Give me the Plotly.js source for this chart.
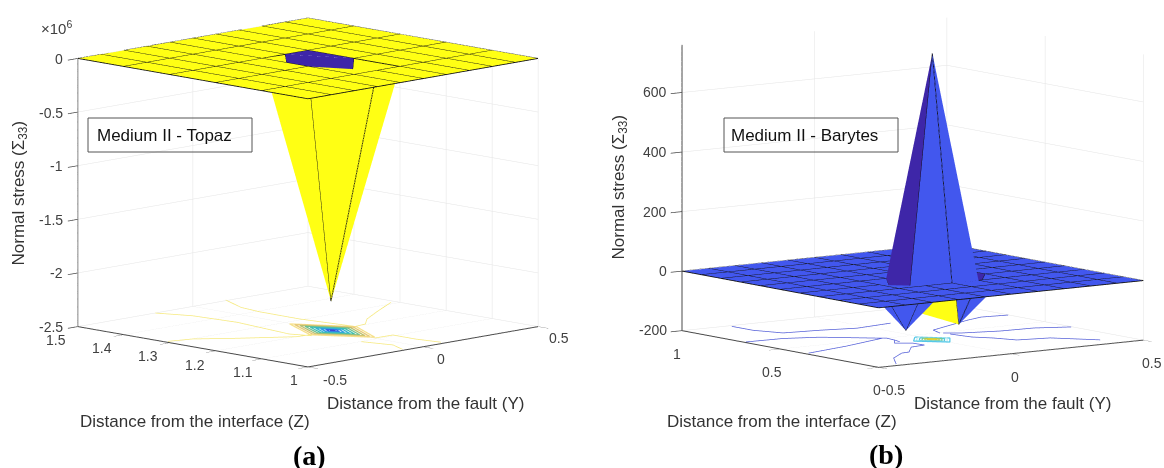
<!DOCTYPE html>
<html><head><meta charset="utf-8">
<script src="https://cdn.plot.ly/plotly-3.0.1.min.js"></script>
<style>html,body{margin:0;padding:0;background:#fff}#g{width:1164px;height:468px}</style>
</head><body><div id="g"></div>
<script>
// ---------- Panel (a): Medium II - Topaz ----------
const topazY = [-0.5,-0.4,-0.3,-0.2,-0.1,0,0.1,0.2,0.3,0.4,0.5];
const topazZ = [1,1.1,1.2,1.3,1.4,1.5];
const topazStress = [
 [0,0,0,0,0,0,0,0,0,0,0],
 [0,0,0,0,0,0,0,0,0,0,0],
 [0,0,0,0,0,-2225000,0,0,0,0,0],
 [0,0,0,0,0,0,0,0,0,0,0],
 [0,0,0,0,0,0,0,0,0,0,0],
 [0,0,0,0,0,0,0,0,0,0,0]];
const topazContours = [
 [[0.137,1.497],[0.079,1.435],[0.065,1.388],[0.063,1.299],[0.09,1.195]],
 [[-0.177,1.493],[-0.13,1.436],[-0.114,1.347],[-0.146,1.218],[-0.119,1.183]],
 [[-0.5,1.304],[-0.417,1.292],[-0.312,1.248],[-0.163,1.193],[-0.09,1.19]],
 [[0.467,1.303],[0.335,1.265],[0.208,1.226],[0.143,1.197],[0.094,1.193]],
 [[0.082,1.002],[0.066,1.05],[0.067,1.099],[-0.01,1.1]],
 [[-0.09,1.0],[-0.056,1.037],[-0.084,1.092]]];
const topazRingCorners = [[-0.02,1.28],[0.09,1.19],[0,1.105],[-0.11,1.19]];
const topazRingScale = [1,0.88,0.76,0.64,0.52,0.4,0.28,0.16,0.06];
const topazRingColors = ['#F6E08A','#E6C878','#B8C070','#6FC08F','#40BFB0','#33B4D0','#2F9BE0','#3565E8','#3F3FD0'];

// ---------- Panel (b): Medium II - Barytes ----------
const barytesY = [-0.5,-0.4,-0.3,-0.2,-0.1,0,0.1,0.2,0.3,0.4,0.5];
const barytesZ = [0,0.1,0.2,0.3,0.4,0.5,0.6,0.7,0.8,0.9,1];
const barytesStress = [
 [0,0,0,0,0,0,0,0,0,0,0],
 [0,0,0,0,0,0,0,0,0,0,0],
 [0,0,0,0,0,0,0,0,0,0,0],
 [0,0,0,0,0,0,0,0,0,0,0],
 [0,0,0,0,-162,760,-160,0,0,0,0],
 [0,0,0,0,0,-118,0,0,0,0,0],
 [0,0,0,0,0,0,0,0,0,0,0],
 [0,0,0,0,0,0,0,0,0,0,0],
 [0,0,0,0,0,0,0,0,0,0,0],
 [0,0,0,0,0,0,0,0,0,0,0],
 [0,0,0,0,0,0,0,0,0,0,0]];
const barytesContours = [
 [[-0.327,0.98],[-0.326,0.873],[-0.288,0.772],[-0.162,0.753],[-0.045,0.722],[0.102,0.75]],
 [[-0.496,0.681],[-0.361,0.675],[-0.254,0.631],[-0.127,0.512],[-0.103,0.494],[-0.109,0.445],[-0.119,0.406]],
 [[-0.489,0.371],[-0.306,0.426],[-0.113,0.501]],
 [[-0.418,0.021],[-0.346,0.131],[-0.261,0.204],[-0.23,0.209],[-0.16,0.292],[-0.101,0.304],[-0.105,0.36],[-0.149,0.392],[-0.109,0.445]],
 [[0.494,0.68],[0.402,0.693],[0.33,0.664],[0.223,0.608],[0.115,0.551],[0.093,0.486]],
 [[0.492,0.357],[0.388,0.406],[0.267,0.413],[0.142,0.45],[0.101,0.481]],
 [[0.394,0.077],[0.298,0.202],[0.19,0.226],[0.158,0.304],[0.119,0.359],[0.105,0.451]]];
const barytesRingCorners = [[-0.021,0.461],[0.052,0.381],[0,0.311],[-0.076,0.393]];
const barytesRingScale = [1,0.85,0.7,0.55,0.4,0.25,0.1];
const barytesRingColors = ['#55C8E8','#BDEBF0','#55C8D8','#7CCB8C','#B9CC4A','#E8CF30','#F5D820'];

// ---------- Tick values and labels ----------
const faultTicks = [-0.5,0,0.5];
const faultLabels = ['-0.5','0','0.5'];
const topazDepthTicks = [1,1.1,1.2,1.3,1.4,1.5];
const topazDepthLabels = ['1','1.1','1.2','1.3','1.4','1.5'];
const topazStressTicks = [-2500000,-2000000,-1500000,-1000000,-500000,0];
const topazStressLabels = ['-2.5','-2','-1.5','-1','-0.5','0'];
const barytesDepthTicks = [0,0.5,1];
const barytesDepthLabels = ['0','0.5','1'];
const barytesStressTicks = [-200,0,200,400,600];
const barytesStressLabels = ['-200','0','200','400','600'];

// ---------- Shared text and colours ----------
const parulaStops = [[0,[62,38,168]],[0.18,[66,88,240]],[0.3,[46,135,240]],[0.45,[16,181,216]],[0.6,[60,194,143]],[0.75,[196,187,60]],[0.9,[251,195,44]],[1,[255,255,20]]];
function parula(t){
  for(let i=1;i<parulaStops.length;i++){
    if(t<=parulaStops[i][0]){
      const a=parulaStops[i-1],b=parulaStops[i],f=(t-a[0])/(b[0]-a[0]);
      return 'rgb('+a[1].map((v,n)=>Math.round(v+(b[1][n]-v)*f)).join(',')+')';
    }
  }
  return 'rgb(255,255,20)';
}

function surfaceTraces(Y,Z,S,scene){
  const x=[],y=[],z=[],I=[],J=[],K=[],fc=[];
  const flat=S.flat(), lo=Math.min(...flat), hi=Math.max(...flat);
  const nY=Y.length,nZ=Z.length,id=(r,c)=>r*nY+c;
  for(let r=0;r<nZ;r++)for(let c=0;c<nY;c++){x.push(Y[c]);y.push(Z[r]);z.push(S[r][c]);}
  for(let r=0;r<nZ-1;r++)for(let c=0;c<nY-1;c++){
    const q=[id(r,c),id(r,c+1),id(r+1,c+1),id(r+1,c)];
    const col=parula((S[r][c]-lo)/(hi-lo));
    // every cell is split along the same diagonal, second corner to fourth
    I.push(q[0],q[1]);J.push(q[1],q[2]);K.push(q[3],q[3]);fc.push(col,col);
  }
  const lx=[],ly=[],lz=[];
  for(let r=0;r<nZ;r++){for(let c=0;c<nY;c++){lx.push(Y[c]);ly.push(Z[r]);lz.push(S[r][c]);}lx.push(null);ly.push(null);lz.push(null);}
  for(let c=0;c<nY;c++){for(let r=0;r<nZ;r++){lx.push(Y[c]);ly.push(Z[r]);lz.push(S[r][c]);}lx.push(null);ly.push(null);lz.push(null);}
  return [
   {type:'mesh3d',scene,x,y,z,i:I,j:J,k:K,facecolor:fc,flatshading:true,hoverinfo:'skip',showscale:false,
    lighting:{ambient:1,diffuse:0,specular:0,roughness:1,fresnel:0}},
   {type:'scatter3d',scene,mode:'lines',x:lx,y:ly,z:lz,line:{color:'#111',width:1.7},hoverinfo:'skip',showlegend:false}
  ];
}
function contourTraces(lines,floor,color,scene){
  const x=[],y=[],z=[];
  lines.forEach(l=>{l.forEach(p=>{x.push(p[0]);y.push(p[1]);z.push(floor);});x.push(null);y.push(null);z.push(null);});
  return {type:'scatter3d',scene,mode:'lines',x,y,z,line:{color,width:1.5},hoverinfo:'skip',showlegend:false};
}
function ringTraces(corners,scales,colors,floor,scene){
  const cy=corners.reduce((s,p)=>s+p[0],0)/corners.length, cz=corners.reduce((s,p)=>s+p[1],0)/corners.length;
  return scales.map((s,n)=>{
    const loop=corners.concat([corners[0]]);
    return {type:'scatter3d',scene,mode:'lines',
      x:loop.map(p=>cy+(p[0]-cy)*s),y:loop.map(p=>cz+(p[1]-cz)*s),z:loop.map(()=>floor),
      line:{color:colors[n],width:2.5},hoverinfo:'skip',showlegend:false};
  });
}
function ax(range,tickvals,ticktext){
  return {range,autorange:false,tickmode:'array',tickvals,ticktext,showticklabels:false,title:{text:''},showgrid:true,gridcolor:'#e4e4e4',gridwidth:1,
    zeroline:false,showbackground:false,showline:true,linecolor:'#484848',linewidth:2,ticks:'outside',ticklen:14,tickcolor:'#484848',tickwidth:1.5,showspikes:false};
}
const Ka=4, Kb=4, shiftB=0.1154;
const elA=Math.tan(10.1*Math.PI/180), elB=Math.tan(7.97*Math.PI/180);
const rightB=[0.803,-0.596];
const centerB={x:-shiftB*rightB[0],y:-shiftB*rightB[1],z:0};
const tickSpots=(labels,spots,anchor)=>labels.map((t,n)=>({text:t,x:spots[n][0],y:spots[n][1],anchor}));
const layout={
 width:1164,height:468,margin:{l:0,r:0,t:0,b:0},paper_bgcolor:'#fff',showlegend:false,
 scene:{domain:{x:[0,0.5289],y:[0.1774,1]},aspectmode:'manual',aspectratio:{x:1.691,y:1.691,z:1.415},
   camera:{projection:{type:'orthographic'},up:{x:0,y:0,z:1},center:{x:0,y:0,z:0},eye:{x:-0.7071*Ka,y:-0.7071*Ka,z:elA*Ka}},
   xaxis:ax([-0.5,0.5],faultTicks,faultLabels),
   yaxis:ax([1,1.5],topazDepthTicks,topazDepthLabels),
   zaxis:ax([-2500000,0],topazStressTicks,topazStressLabels)},
 scene2:{domain:{x:[0.53,1],y:[0.1774,1]},aspectmode:'manual',aspectratio:{x:1.713,y:1.713,z:1.499},
   camera:{projection:{type:'orthographic'},up:{x:0,y:0,z:1},center:centerB,eye:{x:-0.596*Kb+centerB.x,y:-0.803*Kb+centerB.y,z:elB*Kb}},
   xaxis:ax([-0.5,0.5],faultTicks,faultLabels),
   yaxis:ax([0,1],barytesDepthTicks,barytesDepthLabels),
   zaxis:ax([-200,760],barytesStressTicks,barytesStressLabels)},
 annotations:[
  ...tickSpots(topazStressLabels,[[65,327],[65,273],[65,220],[65,166],[65,113],[65,59]],'right'),
  ...tickSpots(topazDepthLabels,[[294,380],[243,372],[195,365],[148,356],[102,348],[55.5,340]]),
  ...tickSpots(faultLabels,[[335,380],[441,359],[559,338]]),
  ...tickSpots(barytesStressLabels,[[669,330],[669,271],[669,212],[669,152],[669,92]],'right'),
  ...tickSpots(barytesDepthLabels,[[876.5,390],[772,372],[677,354]]),
  ...tickSpots(faultLabels,[[892.5,390],[1015,377],[1152,363]]),
  {text:'×10<sup>6</sup>',x:56,y:27,size:15},
  {text:'Normal stress (Σ<sub>33</sub>)',x:19,y:193.5,textangle:-90,size:17,color:'#333'},
  {text:'Normal stress (Σ<sub>33</sub>)',x:619,y:187.5,textangle:-90,size:17,color:'#333'},
  {text:'Distance from the fault (Y)',x:425,y:403,size:17,color:'#333'},
  {text:'Distance from the interface (Z)',x:194.7,y:421,size:17,color:'#333'},
  {text:'Distance from the fault (Y)',x:1012,y:403,size:17,color:'#333'},
  {text:'Distance from the interface (Z)',x:782,y:421,size:17,color:'#333'},
  {text:'Medium II - Topaz',x:164,y:135,size:17,color:'#111'},
  {text:'Medium II - Barytes',x:804.6,y:135,size:17,color:'#111'},
  {text:'<b>(a)</b>',x:309,y:455,size:28,color:'#000',family:'Liberation Serif, Times New Roman, serif'},
  {text:'<b>(b)</b>',x:886,y:454,size:28,color:'#000',family:'Liberation Serif, Times New Roman, serif'}
 ].map(a=>({text:a.text,xref:'paper',yref:'paper',x:a.x/1164,y:1-a.y/468,xanchor:a.anchor||'center',yanchor:'middle',showarrow:false,textangle:a.textangle||0,
   font:{family:a.family||'Liberation Sans, Arial, sans-serif',size:a.size||14,color:a.color||'#404040'}})),
 shapes:[[88,118,252,152],[724,118,898,152]].map(b=>({type:'rect',xref:'paper',yref:'paper',x0:b[0]/1164,x1:b[2]/1164,y0:1-b[3]/468,y1:1-b[1]/468,line:{color:'#555',width:1},fillcolor:'rgba(255,255,255,0)'}))
};
const data=[
 ...surfaceTraces(topazY,topazZ,topazStress,'scene'),
 contourTraces(topazContours,-2490000,'#F6E97E','scene'),
 ...ringTraces(topazRingCorners,topazRingScale,topazRingColors,-2490000,'scene'),
 ...surfaceTraces(barytesY,barytesZ,barytesStress,'scene2'),
 contourTraces(barytesContours,-199,'#5560D8','scene2'),
 ...ringTraces(barytesRingCorners,barytesRingScale,barytesRingColors,-199,'scene2')
];
Plotly.newPlot('g',data,layout,{displayModeBar:false});
</script></body></html>
